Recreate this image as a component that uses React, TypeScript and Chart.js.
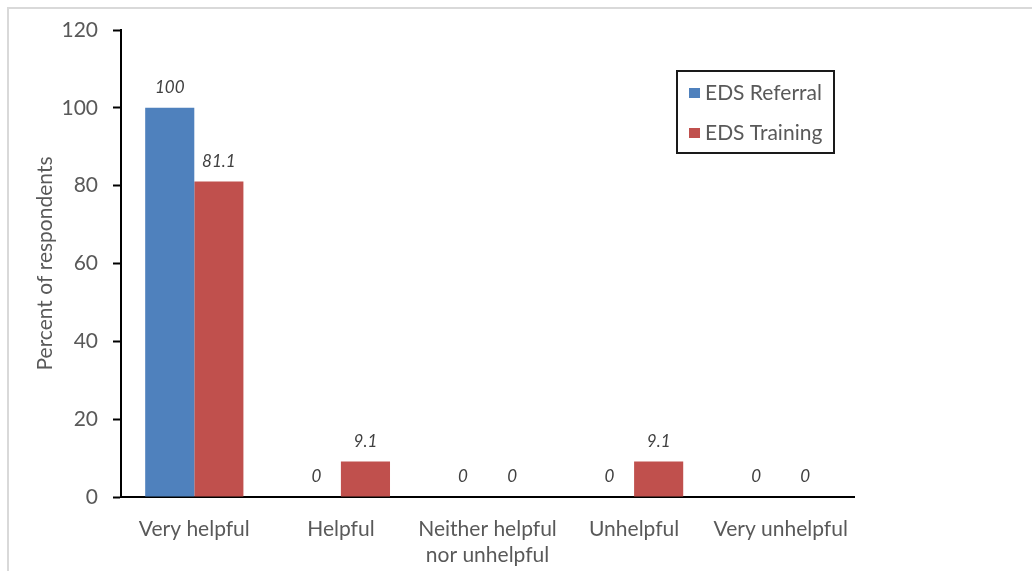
import React, { useEffect, useRef } from "react";
import { Chart, registerables } from "chart.js";

Chart.register(...registerables);

const categories: (string | string[])[] = [
  "Very helpful",
  "Helpful",
  ["Neither helpful", "nor unhelpful"],
  "Unhelpful",
  "Very unhelpful",
];
const referralValues = [100, 0, 0, 0, 0];
const trainingValues = [81.1, 9.1, 0, 9.1, 0];
const seriesNames = ["EDS Referral", "EDS Training"];
const seriesColors = ["#4F81BD", "#C0504D"];
const axisTitle = "Percent of respondents";

const FONT = "Lato, 'Open Sans', sans-serif";
const TEXT = "#595959";

// Italic value labels above each bar
const valueLabels = {
  id: "valueLabels",
  afterDatasetsDraw(chart: any) {
    const { ctx } = chart;
    ctx.save();
    ctx.font = `italic 17px ${FONT}`;
    ctx.fillStyle = "#404040";
    ctx.textAlign = "center";
    ctx.textBaseline = "middle";
    chart.data.datasets.forEach((ds: any, i: number) => {
      const meta = chart.getDatasetMeta(i);
      meta.data.forEach((bar: any, j: number) => {
        ctx.fillText(String(ds.data[j]), bar.x, bar.y - 20);
      });
    });
    ctx.restore();
  },
};

// Boxed legend in the upper right
const boxedLegend = {
  id: "boxedLegend",
  afterDraw(chart: any) {
    const { ctx } = chart;
    const x = 677;
    const y = 71;
    const w = 157;
    const h = 82;
    ctx.save();
    ctx.lineWidth = 2;
    ctx.strokeStyle = "#1a1a1a";
    ctx.strokeRect(x, y, w, h);
    ctx.font = `21px ${FONT}`;
    ctx.textBaseline = "middle";
    ctx.textAlign = "left";
    seriesNames.forEach((name, i) => {
      const cy = y + 22 + i * 40;
      ctx.fillStyle = seriesColors[i];
      ctx.fillRect(x + 12, cy - 5, 11, 10);
      ctx.fillStyle = TEXT;
      ctx.fillText(name, x + 28, cy);
    });
    ctx.restore();
  },
};

export default function App() {
  const canvasRef = useRef<HTMLCanvasElement | null>(null);

  useEffect(() => {
    if (!canvasRef.current) return;
    const chart = new Chart(canvasRef.current, {
      type: "bar",
      data: {
        labels: categories,
        datasets: [
          {
            label: seriesNames[0],
            data: referralValues,
            backgroundColor: seriesColors[0],
            categoryPercentage: 0.67,
            barPercentage: 1,
          },
          {
            label: seriesNames[1],
            data: trainingValues,
            backgroundColor: seriesColors[1],
            categoryPercentage: 0.67,
            barPercentage: 1,
          },
        ],
      },
      options: {
        responsive: false,
        animation: false,
        layout: { padding: { top: 30, right: 178, bottom: 0, left: 0 } },
        plugins: {
          legend: { display: false },
          tooltip: { enabled: false },
        },
        scales: {
          x: {
            grid: { display: false },
            border: { display: true, color: "#000", width: 2 },
            ticks: {
              color: TEXT,
              font: { family: FONT, size: 21, lineHeight: 1.24 },
              padding: 11,
              maxRotation: 0,
              autoSkip: false,
            },
            afterFit: (s: any) => {
              s.height = 74;
            },
          },
          y: {
            min: 0,
            max: 120,
            grid: {
              drawOnChartArea: false,
              drawTicks: true,
              tickLength: 8,
              tickWidth: 2,
              color: "#000",
            },
            border: { display: true, color: "#000", width: 2 },
            ticks: {
              stepSize: 20,
              color: TEXT,
              font: { family: FONT, size: 21 },
              padding: 15,
            },
            title: {
              display: true,
              text: axisTitle,
              color: TEXT,
              font: { family: FONT, size: 21 },
              padding: { top: 33, bottom: 0 },
            },
            afterFit: (s: any) => {
              s.width = 121;
            },
          },
        },
      },
      plugins: [valueLabels, boxedLegend],
    });
    return () => chart.destroy();
  }, []);

  return (
    <div
      style={{
        position: "fixed",
        left: 0,
        top: 0,
        width: 1032,
        height: 571,
        background: "#fff",
      }}
    >
      <div
        style={{
          position: "absolute",
          left: 7,
          top: 7,
          right: 0,
          bottom: 0,
          borderTop: "2px solid #d9d9d9",
          borderLeft: "2px solid #d9d9d9",
        }}
      />
      <canvas
        ref={canvasRef}
        width={1032}
        height={571}
        style={{ position: "absolute", left: 0, top: 0 }}
      />
    </div>
  );
}
